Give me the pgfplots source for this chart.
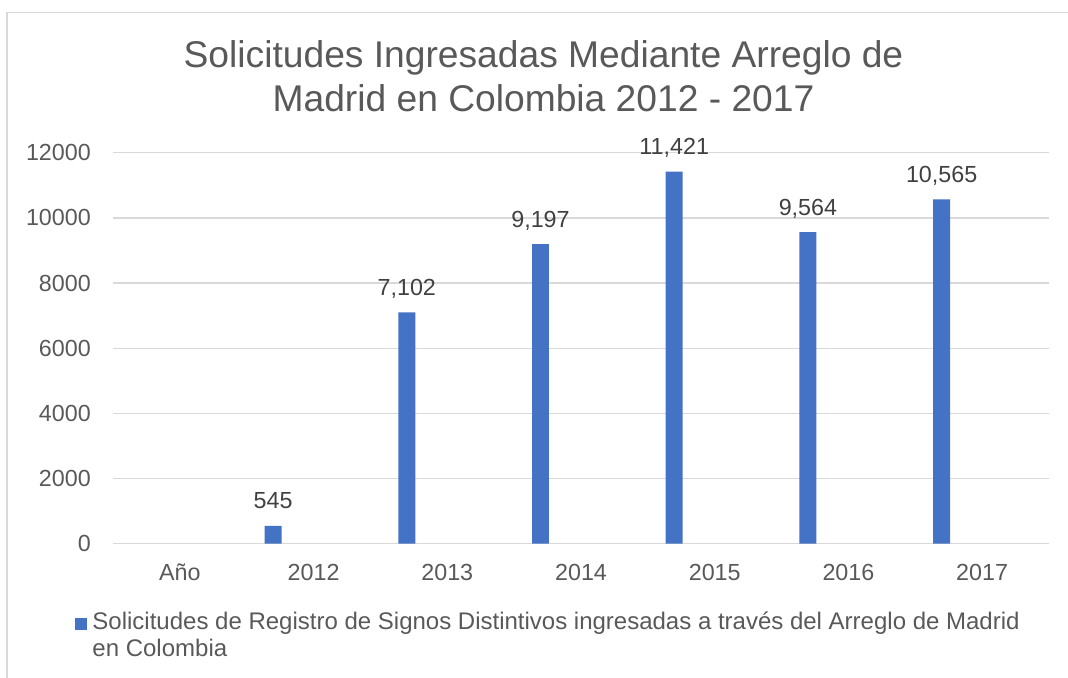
\documentclass[border=0pt]{standalone}
\usepackage{pgfplots}
\pgfplotsset{compat=1.18}
\usepackage{fontspec}
\setmainfont{Liberation Sans}
\definecolor{barblue}{HTML}{4472C4}
\definecolor{txt}{HTML}{595959}
\definecolor{lbl}{HTML}{404040}
\definecolor{grd}{HTML}{D9D9D9}
\begin{document}
\begin{tikzpicture}[x=1bp,y=1bp]
\useasboundingbox (0,0) rectangle (1068,-678);
\draw[grd, line width=1.5bp] (7,-678) -- (7,-12.5) -- (1068,-12.5);
\begin{axis}[
  at={(113bp,-543.7bp)}, anchor=south west,
  scale only axis, width=936bp, height=391bp,
  xmin=-0.5, xmax=6.5, ymin=0, ymax=12000,
  xtick={0,1,2,3,4,5,6},
  xticklabels={Año,2012,2013,2014,2015,2016,2017},
  ytick={0,2000,4000,6000,8000,10000,12000},
  scaled y ticks=false,
  axis line style={draw=none},
  major tick length=0pt,
  ymajorgrids, grid style={grd, line width=1.3bp},
  tick label style={font=\fontsize{23.3bp}{28bp}\selectfont, text=txt},
  /pgf/number format/assume math mode=true,
  yticklabel style={anchor=east, inner sep=0pt, xshift=-22bp, /pgf/number format/1000 sep={}},
  xticklabel style={anchor=base, inner sep=0pt, yshift=-37bp},
  ybar, bar width=0.127,
  nodes near coords,
  nodes near coords style={font=\fontsize{23.3bp}{28bp}\selectfont, text=lbl, anchor=base, inner sep=0pt, yshift=17bp, /pgf/number format/1000 sep={,}},
  clip=false,
  legend style={at={(axis description cs:0,0)}, anchor=north west, xshift=-38bp, yshift=-66bp,
    draw=none, fill=none, inner sep=0pt, font=\fontsize{24bp}{27bp}\selectfont, text=txt,
    cells={align=left, inner sep=0pt},
    /tikz/every odd column/.append style={column sep=3bp}},
  legend image code/.code={\fill[barblue] (0bp,5bp) rectangle (12.3bp,17.3bp);},
]
\addplot[fill=barblue, draw=none, bar shift=0pt] coordinates {
  (0.697,545) (1.697,7102) (2.697,9197) (3.697,11421) (4.697,9564) (5.697,10565)};
\addlegendentry{Solicitudes de Registro de Signos Distintivos ingresadas a través del Arreglo de Madrid\\en Colombia}
\end{axis}
\node[anchor=base, text=txt, font=\fontsize{37.2bp}{44bp}\selectfont, inner sep=0pt] at (543.5,-67.7) {Solicitudes Ingresadas Mediante Arreglo de};
\node[anchor=base, text=txt, font=\fontsize{37.2bp}{44bp}\selectfont, inner sep=0pt] at (543.5,-111.7) {Madrid en Colombia 2012 - 2017};
\end{tikzpicture}
\end{document}
